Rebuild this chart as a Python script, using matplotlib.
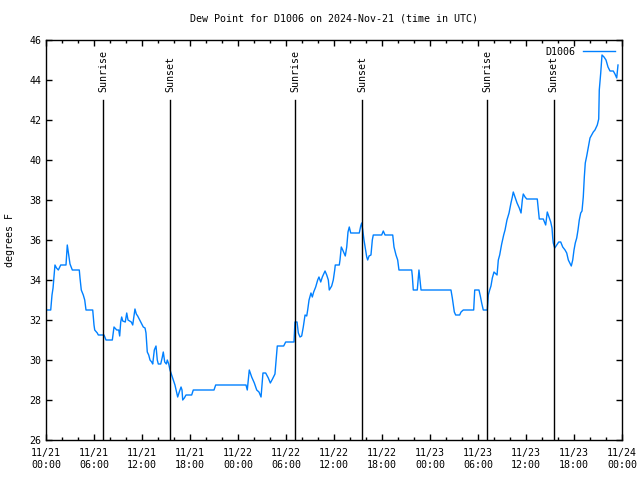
import matplotlib
matplotlib.use("Agg")
import matplotlib.pyplot as plt
import matplotlib.dates as mdates
import pandas as pd
import numpy as np

# hours since 2024-11-21 00:00 UTC and dew point (F)
hours = [0.09, 0.59, 0.75, 0.88, 1.12, 1.31, 1.54, 1.84, 2.5, 2.66, 2.79, 3.0, 3.29, 4.16,
         4.25, 4.41, 4.66, 4.84, 5.0, 5.84, 6.0, 6.09, 6.41, 6.54, 7.25, 7.5, 8.29, 8.5,
         8.84, 9.09, 9.21, 9.34, 9.46, 9.59, 9.91, 10.09, 10.25, 10.66, 10.84, 11.12, 11.29,
         11.46, 11.71, 11.96, 12.16, 12.38, 12.5, 12.66, 12.84, 13.0, 13.21, 13.34, 13.54,
         13.75, 13.91, 14.04, 14.34, 14.54, 14.66, 14.84, 15.04, 15.16, 15.34, 15.5, 15.71,
         15.91, 16.12, 16.34, 16.46, 16.66, 16.88, 17.0, 17.09, 17.29, 17.5, 18.21, 18.41,
         21.0, 21.21, 25.0, 25.16, 25.41, 25.71, 26.04, 26.34, 26.62, 26.88, 27.12, 27.46,
         27.79, 28.04, 28.31, 28.62, 28.84, 28.91, 29.71, 29.96, 31.0, 31.12, 31.38, 31.54,
         31.75, 31.96, 32.16, 32.38, 32.59, 32.71, 32.88, 33.12, 33.29, 33.46, 33.71, 33.96,
         34.12, 34.34, 34.54, 34.88, 35.09, 35.29, 35.41, 35.71, 35.91, 36.09, 36.16, 36.66,
         36.75, 36.91, 37.09, 37.41, 37.59, 37.75, 37.91, 38.09, 39.16, 39.34, 39.46, 39.59,
         39.75, 39.91, 40.09, 40.21, 40.38, 40.62, 40.79, 40.91, 41.96, 42.16, 42.38, 43.34,
         43.5, 43.75, 43.96, 44.12, 45.71, 45.79, 45.91, 46.41, 46.62, 46.88, 50.62, 50.79,
         51.04, 51.21, 51.71, 51.88, 52.16, 53.46, 53.59, 54.12, 54.29, 54.46, 54.66, 55.16,
         55.29, 55.46, 55.62, 55.79, 56.0, 56.38, 56.54, 56.71, 56.96, 57.21, 57.38, 57.62,
         57.88, 58.12, 58.29, 58.41, 58.62, 58.88, 59.16, 59.38, 59.54, 59.66, 59.88, 60.09,
         61.41, 61.59, 61.66, 62.16, 62.46, 62.66, 63.09, 63.25, 63.34, 63.41, 63.59, 63.84,
         64.09, 64.34, 64.59, 64.88, 65.09, 65.29, 65.66, 65.84, 66.0, 66.16, 66.34, 66.5,
         66.66, 66.84, 67.0, 67.16, 67.29, 67.41, 67.59, 67.79, 68.0, 68.21, 68.41, 68.62,
         68.91, 69.09, 69.16, 69.34, 69.5, 69.75, 70.0, 70.25, 70.5, 70.91, 71.12, 71.34,
         71.41, 71.5]
dewpoint = [32.5, 32.5, 33.25, 33.6, 34.75, 34.6, 34.5, 34.75, 34.75, 35.75, 35.4, 34.8, 34.5, 34.5,
            34.1, 33.5, 33.25, 33.0, 32.5, 32.5, 31.75, 31.5, 31.35, 31.25, 31.25, 31.0, 31.0, 31.65,
            31.5, 31.5, 31.2, 31.9, 32.15, 31.95, 31.9, 32.35, 32.0, 31.9, 31.75, 32.55, 32.3,
            32.2, 32.0, 31.8, 31.65, 31.6, 31.35, 30.4, 30.25, 30.0, 29.9, 29.8, 30.5,
            30.7, 30.0, 29.8, 29.8, 30.15, 30.4, 29.9, 29.8, 30.0, 29.8, 29.5, 29.25,
            29.0, 28.75, 28.35, 28.15, 28.4, 28.65, 28.5, 28.0, 28.1, 28.25, 28.25, 28.5,
            28.5, 28.75, 28.75, 28.5, 29.5, 29.15, 28.85, 28.5, 28.4, 28.15, 29.35, 29.35,
            29.1, 28.85, 29.05, 29.3, 30.35, 30.7, 30.7, 30.9, 30.9, 31.9, 31.9, 31.35,
            31.15, 31.2, 31.65, 32.25, 32.2, 32.5, 33.0, 33.35, 33.15, 33.4, 33.65, 34.0,
            34.15, 33.9, 34.15, 34.45, 34.25, 34.0, 33.5, 33.7, 34.0, 34.5, 34.75, 34.75,
            35.0, 35.65, 35.5, 35.2, 35.65, 36.4, 36.65, 36.35, 36.35, 36.7, 36.85, 36.5,
            36.0, 35.6, 35.15, 35.0, 35.2, 35.25, 36.0, 36.25, 36.25, 36.45, 36.25, 36.25,
            35.65, 35.25, 35.0, 34.5, 34.5, 34.2, 33.5, 33.5, 34.5, 33.5, 33.5, 33.1,
            32.4, 32.25, 32.25, 32.4, 32.5, 32.5, 33.5, 33.5, 33.2, 32.85, 32.5, 32.5,
            33.25, 33.5, 33.7, 34.1, 34.4, 34.25, 35.0, 35.25, 35.8, 36.25, 36.5, 37.0,
            37.35, 37.85, 38.15, 38.4, 38.15, 37.85, 37.6, 37.35, 38.0, 38.3, 38.15, 38.05,
            38.05, 37.35, 37.05, 37.05, 36.75, 37.4, 36.9, 36.6, 36.1, 35.85, 35.6, 35.75,
            35.9, 35.9, 35.65, 35.5, 35.35, 35.0, 34.7, 35.0, 35.5, 35.85, 36.1, 36.5,
            37.0, 37.35, 37.45, 38.15, 39.15, 39.85, 40.2, 40.65, 41.1, 41.25, 41.4, 41.5,
            41.75, 42.05, 43.5, 44.35, 45.25, 45.15, 45.0, 44.65, 44.45, 44.45, 44.3, 44.1,
            44.4, 44.75]

events = ["2024-11-21 07:08", "2024-11-21 15:30", "2024-11-22 07:08",
          "2024-11-22 15:30", "2024-11-23 07:08", "2024-11-23 15:29"]
event_names = ["Sunrise", "Sunset", "Sunrise", "Sunset", "Sunrise", "Sunset"]

start = pd.Timestamp("2024-11-21 00:00")
times = start + pd.to_timedelta(hours, unit="h")

plt.rcParams["font.family"] = "DejaVu Sans Mono"
plt.rcParams["font.size"] = 7.2

fig = plt.figure(figsize=(6.4, 4.8), dpi=100)
ax = fig.add_axes([46 / 640, 40 / 480, 576 / 640, 400 / 480])

ax.plot(times, dewpoint, color="#0080ff", lw=1.0, label="D1006")

for t, name in zip(events, event_names):
    tt = pd.Timestamp(t)
    ax.axvline(tt, ymin=0, ymax=(43 - 26) / 20, color="black", lw=1.0)
    ax.text(tt, 43.4, name, rotation=90, ha="center", va="bottom")

ax.set_xlim(start, pd.Timestamp("2024-11-24 00:00"))
ax.set_ylim(26, 46)
ax.set_yticks(np.arange(26, 47, 2))
ax.xaxis.set_major_locator(mdates.HourLocator(byhour=[0, 6, 12, 18]))
ax.xaxis.set_minor_locator(mdates.HourLocator(byhour=range(0, 24, 2)))
ax.xaxis.set_major_formatter(mdates.DateFormatter("%m/%d\n%H:%M"))
ax.tick_params(which="both", direction="in", top=True, right=True, width=1)
ax.tick_params(which="major", length=4.5)
ax.tick_params(which="minor", length=2.5)
ax.tick_params(axis="x", pad=6)
for s in ax.spines.values():
    s.set_linewidth(1.0)

ax.set_title("Dew Point for D1006 on 2024-Nov-21 (time in UTC)", pad=13, fontsize=7.2)
ax.set_ylabel("degrees F", labelpad=10)
ax.legend(loc="upper right", frameon=False, markerfirst=False, handlelength=3.2,
          borderaxespad=0.3, fontsize=7.2)

fig.savefig("out.png", dpi=100)
